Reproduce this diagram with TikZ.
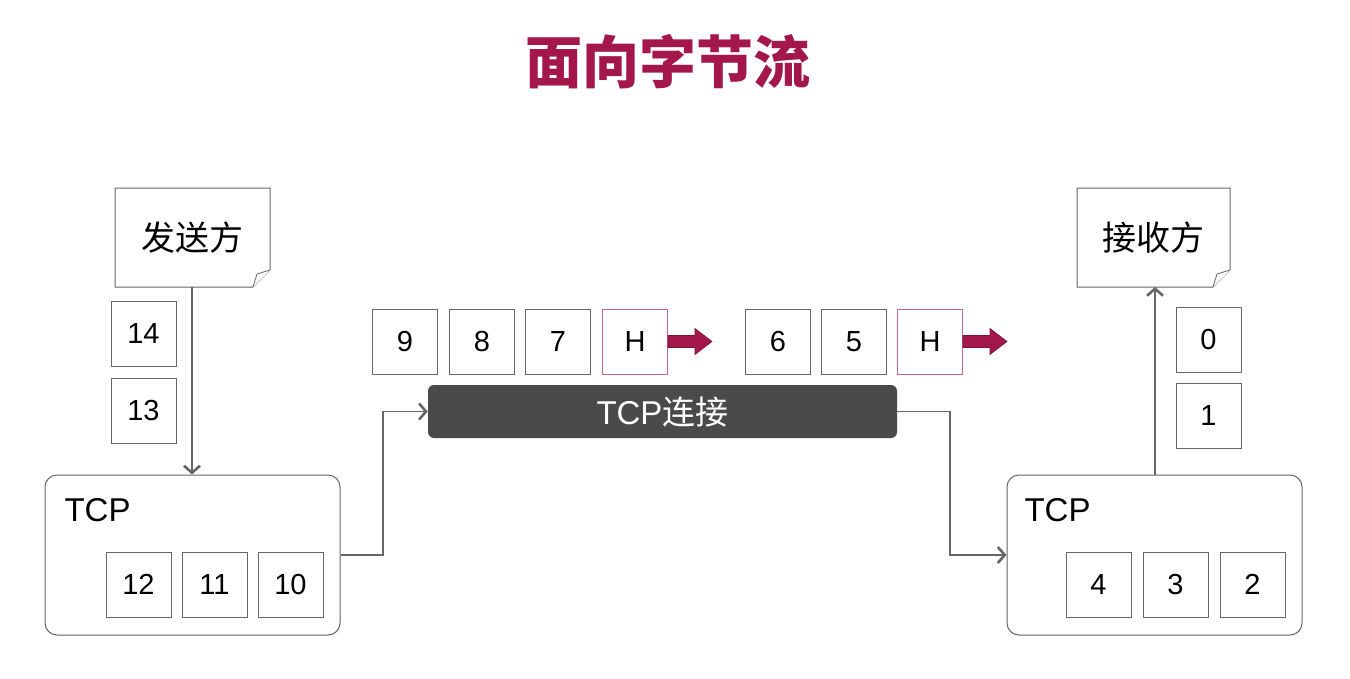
\documentclass[tikz,border=0pt]{standalone}
\usepackage{fontspec}
\setmainfont{Liberation Sans}
\newfontfamily\cjk{Noto Sans CJK SC}
\usetikzlibrary{arrows.meta,positioning}
\definecolor{titlered}{HTML}{A3174A}
\definecolor{linegray}{HTML}{666666}
\definecolor{bargray}{HTML}{4A4A4A}
\definecolor{pinkline}{HTML}{C9648A}
\tikzset{
  cell/.style={draw=linegray, line width=1pt, minimum width=65pt, minimum height=65pt, inner sep=0pt, font=\fontsize{29}{33}\selectfont, text=black},
  hcell/.style={cell, draw=pinkline},
  tcpbox/.style={draw=linegray, line width=1pt, rounded corners=12pt, minimum width=295pt, minimum height=160pt, inner sep=0pt},
  conn/.style={draw=linegray, line width=1.5pt, -{Straight Barb[length=7pt,width=16pt,line width=2.6pt]}},
  fat/.style={fill=titlered, draw=titlered!75!black, line width=0.6pt},
}
\begin{document}
\begin{tikzpicture}[x=1pt,y=-1pt]
\useasboundingbox[fill=white] (0,0) rectangle (1350,678);
% title
\node[font=\cjk\bfseries\fontsize{57}{62}\selectfont, text=titlered] (title) at (668,62) {面向字节流};

% sender note
\draw[linegray, line width=1pt, fill=white] (115,188) -- (270,188) -- (270,270) -- (253,287) -- (115,287) -- cycle;
\draw[linegray, line width=0.8pt, fill=white] (270,270) -- (257,274) -- (253,287);
\node[font=\cjk\fontsize{34}{40}\selectfont] (sender) at (192.5,237.5) {发送方};
\coordinate (senderbot) at (192,287);

% receiver note
\draw[linegray, line width=1pt, fill=white] (1077,188) -- (1230,188) -- (1230,270) -- (1213,287) -- (1077,287) -- cycle;
\draw[linegray, line width=0.8pt, fill=white] (1230,270) -- (1217,274) -- (1213,287);
\node[font=\cjk\fontsize{34}{40}\selectfont] (receiver) at (1153.5,237.5) {接收方};
\coordinate (recvbot) at (1155,287);

% sender queue
\node[cell] (c14) at (143.5,333.5) {14};
\node[cell] (c13) at (143.5,410.5) {13};

% left TCP
\node[tcpbox] (ltcp) at (192.5,555) {};
\node[font=\fontsize{33}{38}\selectfont, anchor=west] (ltcplabel) at (61,510) {TCP};
\node[cell] (c12) at (138.5,584.5) {12};
\node[cell] (c11) at (214.5,584.5) {11};
\node[cell] (c10) at (290.5,584.5) {10};

% right TCP
\node[tcpbox] (rtcp) at (1154.5,555) {};
\node[font=\fontsize{33}{38}\selectfont, anchor=west] (rtcplabel) at (1021,510) {TCP};
\node[cell] (c4) at (1098.5,584.5) {4};
\node[cell] (c3) at (1175.5,584.5) {3};
\node[cell] (c2) at (1252.5,584.5) {2};

% receiver queue
\node[cell] (c0) at (1208.5,339.5) {0};
\node[cell] (c1) at (1208.5,415.5) {1};

% TCP connection bar
\node[fill=bargray, rounded corners=6pt, minimum width=469pt, minimum height=53pt, inner sep=0pt,
      text=white, font=\fontsize{33}{38}\selectfont] (bar) at (662.5,411.5) {TCP{\cjk 连接}};

% packets in flight
\node[cell] (c9) at (405,341.5) {9};
\node[cell] (c8) at (482,341.5) {8};
\node[cell] (c7) at (558,341.5) {7};
\node[hcell] (h1) at (635,341.5) {H};
\node[cell] (c6) at (778,341.5) {6};
\node[cell] (c5) at (854,341.5) {5};
\node[hcell] (h2) at (930,341.5) {H};

% fat arrows
\draw[fat] (h1.east) ++(0,-6) -- ++(27,0) -- ++(0,-7) -- ++(17,13) -- ++(-17,13) -- ++(0,-7) -- ++(-27,0) -- cycle;
\draw[fat] (h2.east) ++(0,-6) -- ++(27,0) -- ++(0,-7) -- ++(17,13) -- ++(-17,13) -- ++(0,-7) -- ++(-27,0) -- cycle;

% connectors
\draw[conn] (senderbot) -- (senderbot |- ltcp.north);
\draw[conn] (ltcp.east) -- (383,555) |- (bar.west);
\draw[conn] (bar.east) -- (950,411.5) |- (rtcp.west);
\draw[conn] (rtcp.north -| recvbot) -- (recvbot);
\end{tikzpicture}
\end{document}
